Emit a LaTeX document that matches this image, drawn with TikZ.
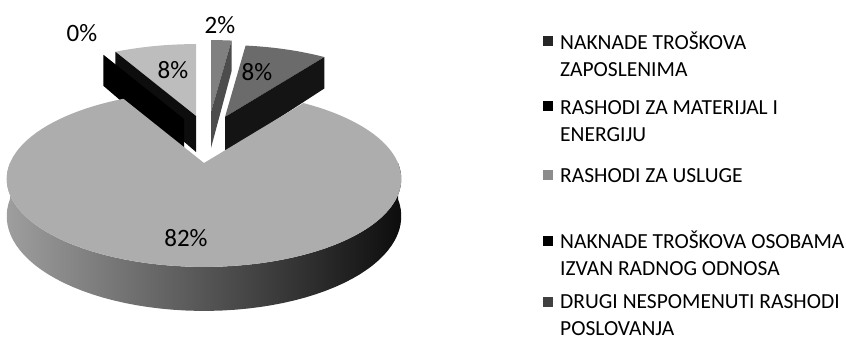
\documentclass[tikz,border=0pt]{standalone}
\usepackage{fontspec}
\setmainfont{Carlito}

\begin{document}
\begin{tikzpicture}[
x=1pt, y=-1pt,
declare function={
  px(\t)=194*sin(\t)/(1+0.182*cos(\t));
  py(\t)=-85*cos(\t)/(1+0.182*cos(\t));
  ph(\t)=36/(1+0.182*cos(\t));
},
pct/.style={font=\fontsize{25}{30}\selectfont, inner sep=0pt},
legtext/.style={font=\fontsize{21.5}{27}\selectfont, align=left, anchor=base west, inner sep=0pt},
legbox/.style={minimum size=10pt, inner sep=0pt}
]
\useasboundingbox (0,0) rectangle (846,340);

\fill[black!26] (196,116) -- plot[domain=331.2:360, samples=20] ({196+px(\x)},{116+py(\x)}) -- cycle;
\fill[black!95] (196,116) -- ({196+px(331.2)},{116+py(331.2)}) -- ({196+px(331.2)},{116+py(331.2)+ph(331.2)}) -- (196,152) -- cycle;
\fill[black] (184,119) -- ({184+px(331.2)},{119+py(331.2)}) -- ({184+px(331.2)},{119+py(331.2)+ph(331.2)}) -- (184,155) -- cycle;

\fill[black!50] (211,112) -- plot[domain=0:7.2, samples=5] ({211+px(\x)},{112+py(\x)}) -- cycle;
\fill[black!70] (211,112) -- ({211+px(7.2)},{112+py(7.2)}) -- ({211+px(7.2)},{112+py(7.2)+ph(7.2)}) -- (211,148) -- cycle;

\fill[black!58] (225,117) -- plot[domain=7.2:36, samples=15] ({225+px(\x)},{117+py(\x)}) -- cycle;
\fill[black!92] (225,117) -- ({225+px(36)},{117+py(36)}) -- ({225+px(36)},{117+py(36)+ph(36)}) -- (225,153) -- cycle;

\shade[left color=black!38, right color=black!95] plot[domain=90:270, samples=60] ({204+px(\x)},{163+py(\x)}) -- plot[domain=270:90, samples=60] ({204+px(\x)},{163+py(\x)+ph(\x)}) -- cycle;
\fill[black!32] (204,163) -- plot[domain=36:331.2, samples=100] ({204+px(\x)},{163+py(\x)}) -- cycle;

\node[pct] (p0) at (82,33) {0\%};
\node[pct] (p2) at (220,25) {2\%};
\node[pct] (p8a) at (173,70) {8\%};
\node[pct] (p8b) at (257,72) {8\%};
\node[pct] (p82) at (186,238) {82\%};

\node[legbox, fill=black!85] (m1) at (548,41) {};
\node[legtext] (l1) at (560,76) {NAKNADE TROŠKOVA\\ZAPOSLENIMA};
\node[legbox, fill=black] (m2) at (548,106) {};
\node[legtext] (l2) at (560,141) {RASHODI ZA MATERIJAL I\\ENERGIJU};
\node[legbox, fill=black!45] (m3) at (548,175) {};
\node[legtext] (l3) at (560,182) {RASHODI ZA USLUGE};
\node[legbox, fill=black] (m4) at (548,241) {};
\node[legtext] (l4) at (560,275) {NAKNADE TROŠKOVA OSOBAMA\\IZVAN RADNOG ODNOSA};
\node[legbox, fill=black!75] (m5) at (548,302) {};
\node[legtext] (l5) at (560,335) {DRUGI NESPOMENUTI RASHODI\\POSLOVANJA};

\end{tikzpicture}
\end{document}
